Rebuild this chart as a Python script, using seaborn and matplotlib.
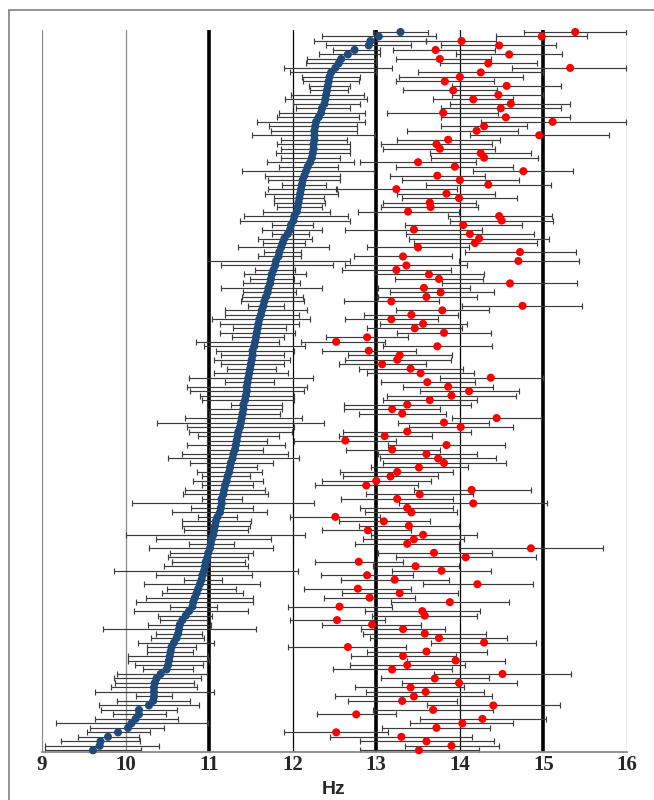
import numpy as np
import pandas as pd
import matplotlib
matplotlib.use("Agg")
import matplotlib.pyplot as plt
from matplotlib.patches import Rectangle
import seaborn as sns

# Rows listed from top of chart to bottom
blue_mean = [13.29, 13.03, 12.93, 12.91, 12.74, 12.66, 12.58, 12.55, 12.51, 12.46,
             12.44, 12.43, 12.42, 12.41, 12.40, 12.39, 12.38, 12.35, 12.34, 12.31,
             12.28, 12.27, 12.26, 12.26, 12.26, 12.25, 12.25, 12.24, 12.23, 12.21,
             12.18, 12.16, 12.14, 12.12, 12.11, 12.10, 12.09, 12.08, 12.07, 12.06,
             12.05, 12.02, 12.01, 11.98, 11.97, 11.94, 11.90, 11.88, 11.86, 11.84,
             11.83, 11.80, 11.79, 11.77, 11.75, 11.74, 11.73, 11.71, 11.70, 11.68,
             11.66, 11.65, 11.63, 11.62, 11.60, 11.59, 11.58, 11.57, 11.56, 11.55,
             11.54, 11.52, 11.52, 11.51, 11.50, 11.49, 11.48, 11.47, 11.46, 11.45,
             11.45, 11.44, 11.43, 11.41, 11.41, 11.40, 11.39, 11.38, 11.37, 11.35,
             11.34, 11.33, 11.32, 11.31, 11.29, 11.28, 11.26, 11.25, 11.24, 11.22,
             11.21, 11.19, 11.18, 11.17, 11.15, 11.15, 11.14, 11.13, 11.10, 11.08,
             11.07, 11.06, 11.05, 11.03, 11.02, 11.01, 10.99, 10.98, 10.96, 10.95,
             10.94, 10.92, 10.91, 10.89, 10.87, 10.85, 10.83, 10.81, 10.80, 10.76,
             10.72, 10.68, 10.65, 10.64, 10.63, 10.61, 10.58, 10.55, 10.54, 10.53,
             10.52, 10.51, 10.49, 10.42, 10.37, 10.35, 10.34, 10.34, 10.34, 10.33,
             10.28, 10.16, 10.16, 10.12, 10.07, 10.03, 9.91, 9.79, 9.70, 9.69, 9.61]

blue_lo = [12.96, 12.35, 12.26, 12.40, 12.48, 12.31, 12.17, 12.16, 11.89, 11.97,
           12.11, 12.12, 12.19, 12.21, 11.98, 11.91, 12.00, 12.04, 11.84, 11.81,
           11.57, 11.72, 11.74, 11.51, 11.86, 11.81, 11.86, 11.80, 11.86, 11.69,
           11.83, 11.39, 11.67, 11.71, 11.87, 11.71, 11.67, 11.78, 11.78, 11.81,
           11.65, 11.42, 11.37, 11.75, 11.63, 11.75, 11.58, 11.64, 11.35, 11.66,
           11.59, 10.97, 11.14, 11.55, 11.42, 11.49, 11.41, 11.14, 11.41, 11.39,
           11.38, 11.46, 11.19, 11.19, 11.04, 11.13, 11.28, 11.13, 11.27, 10.84,
           10.94, 11.08, 11.14, 11.06, 11.14, 11.21, 11.06, 10.76, 11.19, 10.74,
           10.77, 10.89, 10.91, 11.26, 10.98, 11.00, 10.71, 10.38, 10.74, 10.76,
           10.87, 10.98, 10.74, 11.00, 10.67, 10.51, 10.77, 10.97, 10.86, 10.91,
           10.81, 10.91, 10.71, 10.69, 10.91, 10.08, 10.78, 10.55, 10.87, 10.68,
           10.68, 10.70, 10.00, 10.37, 10.76, 10.28, 10.53, 10.51, 10.55, 10.46,
           9.86, 10.36, 10.70, 10.22, 10.50, 10.43, 10.25, 10.12, 10.53, 10.10,
           10.39, 10.41, 10.27, 9.73, 10.36, 10.30, 10.15, 10.26, 10.26, 10.03,
           10.03, 10.11, 10.21, 9.90, 9.86, 9.87, 9.83, 9.63, 10.13, 9.90,
           9.68, 9.71, 9.85, 9.64, 9.17, 9.58, 9.54, 9.43, 9.23, 9.03, 9.03]

blue_hi = [13.62, 13.71, 13.60, 13.41, 13.05, 13.05, 13.00, 13.00, 13.19, 13.00,
           12.81, 12.79, 12.68, 12.66, 12.85, 12.89, 12.80, 12.68, 12.87, 12.79,
           12.87, 12.77, 12.77, 12.99, 12.65, 12.69, 12.69, 12.69, 12.57, 12.73,
           12.54, 12.97, 12.56, 12.57, 12.40, 12.52, 12.54, 12.38, 12.39, 12.35,
           12.45, 12.66, 12.68, 12.24, 12.35, 12.20, 12.23, 12.15, 12.43, 12.10,
           12.10, 12.68, 12.48, 12.03, 12.16, 12.02, 12.09, 12.35, 12.04, 12.12,
           12.14, 11.89, 12.17, 12.07, 12.21, 12.08, 11.92, 12.03, 11.89, 11.83,
           12.15, 12.01, 11.89, 11.97, 11.89, 11.80, 11.94, 12.24, 11.78, 12.17,
           12.14, 12.02, 12.01, 11.87, 11.87, 11.85, 12.11, 12.38, 12.02, 11.99,
           11.84, 11.69, 11.91, 11.65, 11.94, 12.08, 11.76, 11.57, 11.63, 11.49,
           11.64, 11.52, 11.67, 11.70, 11.39, 12.26, 11.52, 11.69, 11.33, 11.50,
           11.49, 11.46, 12.15, 11.74, 11.30, 11.77, 11.52, 11.47, 11.43, 11.46,
           12.06, 11.51, 11.15, 11.61, 11.32, 11.40, 11.53, 11.52, 11.09, 11.46,
           11.04, 10.98, 11.02, 11.56, 10.92, 10.94, 11.06, 10.84, 10.81, 10.99,
           11.00, 10.93, 10.81, 10.98, 10.90, 10.82, 10.86, 11.06, 10.55, 10.77,
           10.88, 10.62, 10.48, 10.63, 10.99, 10.46, 10.29, 10.16, 10.17, 10.40, 10.19]

red_mean = [15.38, 14.98, 14.02, 14.47, 13.71, 14.59, 13.76, 14.34, 15.32, 14.25,
            14.00, 13.82, 14.56, 13.92, 14.46, 14.16, 14.61, 14.49, 13.80, 14.55,
            15.11, 14.29, 14.20, 14.95, 13.86, 13.72, 13.76, 14.25, 14.29, 13.50,
            13.94, 14.76, 13.73, 14.00, 14.34, 13.24, 13.84, 13.99, 13.64, 13.65,
            13.38, 14.47, 14.50, 14.04, 13.45, 14.12, 14.23, 14.18, 13.50, 14.72,
            13.32, 14.70, 13.36, 13.24, 13.63, 13.75, 14.60, 13.57, 13.77, 13.60,
            13.18, 14.75, 13.79, 13.42, 13.18, 13.56, 13.46, 13.81, 12.89, 12.52,
            13.73, 12.91, 13.28, 13.25, 13.07, 13.41, 13.53, 14.37, 13.61, 13.86,
            14.11, 13.90, 13.64, 13.37, 13.19, 13.31, 14.44, 13.81, 14.01, 13.37,
            13.10, 12.63, 13.84, 13.19, 13.60, 13.74, 13.81, 13.51, 13.25, 13.17,
            13.00, 12.88, 14.14, 13.52, 13.25, 14.16, 13.37, 13.42, 12.51, 13.09,
            13.39, 12.90, 13.56, 13.45, 13.37, 14.85, 13.69, 14.07, 12.79, 13.47,
            13.78, 12.89, 13.22, 14.21, 12.78, 13.28, 12.92, 13.88, 12.56, 13.55,
            13.58, 12.53, 12.95, 13.32, 13.58, 13.75, 14.29, 12.66, 13.60, 13.32,
            13.95, 13.37, 13.19, 14.51, 13.70, 13.99, 13.41, 13.59, 13.45, 13.31,
            14.40, 13.68, 12.76, 14.27, 14.03, 13.72, 12.52, 13.30, 13.60, 13.90, 13.51]

red_lo = [14.77, 14.43, 13.60, 13.77, 13.20, 13.95, 13.24, 13.76, 14.62, 13.50,
          13.27, 13.23, 13.91, 13.32, 13.91, 13.68, 13.88, 13.78, 13.13, 13.78,
          14.25, 13.78, 13.37, 14.12, 13.25, 13.06, 13.08, 13.64, 13.65, 12.81,
          13.23, 14.16, 13.17, 13.31, 13.59, 12.53, 13.25, 13.31, 13.08, 13.06,
          12.78, 13.86, 13.88, 13.34, 12.63, 13.36, 13.39, 13.45, 12.89, 14.06,
          12.73, 13.99, 12.62, 12.59, 12.97, 13.22, 13.79, 13.02, 13.16, 13.02,
          12.61, 14.03, 13.23, 12.85, 12.63, 13.04, 12.89, 13.25, 12.40, 12.10,
          13.08, 12.35, 12.66, 12.62, 12.55, 12.79, 12.89, 13.76, 13.06, 13.32,
          13.52, 13.13, 13.08, 12.61, 12.61, 12.79, 13.91, 13.26, 13.39, 12.60,
          12.55, 12.02, 13.14, 12.64, 13.02, 13.04, 13.08, 12.94, 12.57, 12.60,
          12.35, 12.27, 13.45, 12.88, 12.58, 13.27, 12.80, 12.86, 11.97, 12.55,
          12.79, 12.35, 12.94, 12.84, 12.75, 13.99, 13.02, 13.23, 12.27, 12.96,
          13.19, 12.34, 12.58, 13.56, 12.14, 12.59, 12.38, 13.18, 11.94, 12.87,
          12.95, 11.97, 12.35, 12.82, 12.84, 12.93, 13.66, 11.94, 12.89, 12.70,
          13.37, 12.68, 12.48, 13.69, 13.06, 13.31, 12.74, 12.88, 12.50, 12.66,
          13.61, 12.96, 12.29, 13.52, 13.40, 13.07, 11.89, 12.45, 12.80, 13.34, 12.80]

red_hi = [15.99, 15.52, 14.43, 15.15, 14.42, 15.22, 14.37, 14.92, 15.99, 15.00,
          14.75, 14.41, 15.21, 14.45, 14.99, 14.64, 15.32, 15.21, 14.46, 15.32,
          15.99, 14.80, 14.70, 15.78, 14.48, 14.39, 14.42, 14.85, 14.93, 14.19,
          14.64, 15.35, 14.30, 14.71, 15.09, 13.97, 14.42, 14.68, 14.19, 14.22,
          13.99, 15.10, 15.12, 14.74, 14.26, 14.89, 15.07, 14.92, 14.11, 15.39,
          13.91, 15.42, 14.09, 13.89, 14.29, 14.28, 15.40, 14.12, 14.41, 14.21,
          13.75, 15.46, 14.35, 13.98, 13.74, 14.09, 14.03, 14.37, 13.38, 13.10,
          14.38, 13.47, 13.91, 13.89, 13.59, 14.04, 14.17, 14.99, 14.18, 14.40,
          14.71, 14.67, 14.20, 14.13, 13.76, 13.83, 14.97, 14.35, 14.63, 14.13,
          13.67, 13.24, 14.54, 13.76, 14.20, 14.43, 14.55, 14.10, 13.92, 13.74,
          13.66, 13.50, 14.85, 14.16, 13.92, 15.04, 13.92, 13.97, 13.04, 13.64,
          13.99, 13.41, 14.20, 14.05, 13.99, 15.71, 14.38, 14.91, 13.32, 13.99,
          14.37, 13.44, 13.87, 14.87, 13.41, 13.98, 13.46, 14.59, 13.19, 14.24,
          14.20, 13.10, 13.54, 13.82, 14.31, 14.57, 14.91, 13.35, 14.32, 13.95,
          14.54, 14.06, 13.91, 15.33, 14.35, 14.68, 14.05, 14.29, 14.39, 13.97,
          15.20, 14.40, 13.24, 15.03, 14.64, 14.36, 13.14, 14.15, 14.41, 14.47, 14.23]

x_ticks = [9, 10, 11, 12, 13, 14, 15, 16]
thick_lines = [11, 13, 15]
x_label = "Hz"

n = len(blue_mean)
pos = np.arange(n, 0, -1)

df = pd.DataFrame({
    "pos": pos,
    "blue": blue_mean, "blue_lo": blue_lo, "blue_hi": blue_hi,
    "red": red_mean, "red_lo": red_lo, "red_hi": red_hi,
})

sns.set_style("white")
fig = plt.figure(figsize=(6.54, 8.0), dpi=100)
ax = fig.add_axes([42 / 654, 1 - 752 / 800, (627 - 42) / 654, (752 - 30) / 800])

# vertical reference lines
for v in x_ticks:
    if v in thick_lines:
        ax.axvline(v, color="black", lw=2.6, zorder=1, solid_capstyle="round")
    else:
        col = "black" if v in (12, 14) else "#8a8a8a"
        ax.axvline(v, color=col, lw=0.9, zorder=1)

bar_kw = dict(fmt="none", ecolor="#3c3c3c", elinewidth=0.85, capsize=2.2,
              capthick=0.85, zorder=2)
ax.errorbar(df["blue"], df["pos"],
            xerr=[np.clip(df["blue"] - df["blue_lo"], 0, None),
                  np.clip(df["blue_hi"] - df["blue"], 0, None)], **bar_kw)
ax.errorbar(df["red"], df["pos"],
            xerr=[np.clip(df["red"] - df["red_lo"], 0, None),
                  np.clip(df["red_hi"] - df["red"], 0, None)], **bar_kw)

sns.scatterplot(data=df, x="blue", y="pos", ax=ax, color="#1f4a7c", s=34,
                edgecolor="none", zorder=3, clip_on=False)
sns.scatterplot(data=df, x="red", y="pos", ax=ax, color="#ff0000", s=34,
                edgecolor="none", zorder=3, clip_on=False)

ax.set_xlim(9, 16)
ax.set_ylim(1 - (752 - 750.3) / 4.49, n + 2 / 4.49)
ax.set_xticks(x_ticks)
ax.set_xticklabels([str(t) for t in x_ticks], fontfamily="Liberation Serif",
                   fontweight="bold", fontsize=15)
ax.set_yticks([])
ax.set_xlabel("")
ax.set_ylabel("")
ax.tick_params(axis="x", length=0, pad=2)
for s in ["left", "top", "right"]:
    ax.spines[s].set_visible(False)
ax.spines["bottom"].set_color("#8a8a8a")
ax.spines["bottom"].set_linewidth(1.3)
ax.patch.set_alpha(0)

fig.text(334 / 654, 1 - 789 / 800, x_label, ha="center", va="center",
         fontfamily="Liberation Sans", fontweight="bold", fontsize=14)

# outer frame
fig.patches.append(Rectangle((9 / 654, -0.02), 1.0, 1 - 10 / 800 + 0.02,
                             transform=fig.transFigure, fill=False,
                             edgecolor="#8a8a8a", lw=1.3, zorder=0))

fig.savefig("out.png", dpi=100)
